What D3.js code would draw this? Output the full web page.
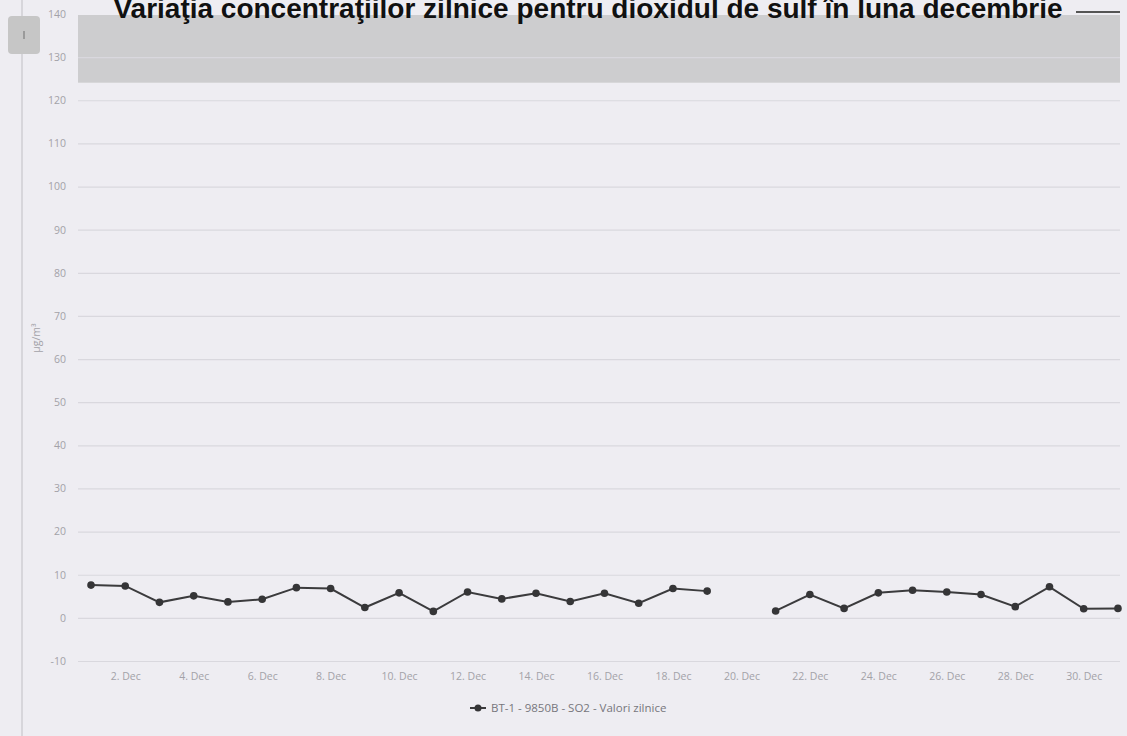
<!DOCTYPE html>
<html>
<head>
<meta charset="utf-8">
<script src="https://cdn.jsdelivr.net/npm/d3@7"></script>
<style>
    body { margin: 0; background: #eeedf2; overflow: hidden; }
    svg { display: block; }
</style>
</head>
<body>
<div class="chart"></div>
<script>

// ===============================
// Data
// ===============================

const days = [1, 2, 3, 4, 5, 6, 7, 8, 9, 10, 11, 12, 13, 14, 15, 16,
    17, 18, 19, 20, 21, 22, 23, 24, 25, 26, 27, 28, 29, 30, 31];

// null = no value for that day (line is broken)
const so2Values = [7.6, 7.4, 3.6, 5.1, 3.7, 4.3, 7.0, 6.8, 2.4, 5.8, 1.5,
    6.0, 4.4, 5.7, 3.8, 5.7, 3.4, 6.8, 6.2, null, 1.6, 5.4, 2.2, 5.8, 6.4,
    6.0, 5.4, 2.6, 7.2, 2.1, 2.2];

const yTicks = [-10, 0, 10, 20, 30, 40, 50, 60, 70, 80, 90, 100, 110, 120, 130, 140];
const xTicks = [2, 4, 6, 8, 10, 12, 14, 16, 18, 20, 22, 24, 26, 28, 30];

const limitBand = [125, 140];

const title = "Variaţia concentraţiilor zilnice pentru dioxidul de sulf în luna decembrie";
const seriesName = "BT-1 - 9850B - SO2 - Valori zilnice";
const yTitle = "µg/m³";

const data = days.map((d, i) => ({ day: d, value: so2Values[i] }));


// ===============================
// Chart
// ===============================

const width = 1127;
const height = 736;

const plot = { left: 78, right: 1120, top: 14, bottom: 661 };

const svg = d3.select(".chart")
    .append("svg")
    .attr("width", width)
    .attr("height", height);

// scales
const x = d3.scaleLinear()
    .domain([0.62, 31.06])
    .range([plot.left, plot.right]);

const y = d3.scaleLinear()
    .domain([-10, 140])
    .range([plot.bottom, plot.top]);

// container border on the left
svg.append("line")
    .attr("x1", 22).attr("x2", 22)
    .attr("y1", 0).attr("y2", height)
    .attr("stroke", "#cfced3")
    .attr("stroke-width", 1.5);

// export button
svg.append("rect")
    .attr("x", 8).attr("y", 16)
    .attr("width", 32).attr("height", 38)
    .attr("rx", 4)
    .attr("fill", "#c6c6c6");

svg.append("line")
    .attr("x1", 24).attr("x2", 24)
    .attr("y1", 31).attr("y2", 39)
    .attr("stroke", "#9a9a9a")
    .attr("stroke-width", 2);

// =========================
// Limit band
// =========================

svg.append("rect")
    .attr("x", plot.left)
    .attr("y", y(limitBand[1]) + 1)
    .attr("width", plot.right - plot.left)
    .attr("height", y(limitBand[0]) - y(limitBand[1]) + 3)
    .attr("fill", "#cdcdcf");

// =========================
// Grid + Y axis
// =========================

const yAxis = svg.append("g")
    .attr("transform", `translate(${plot.left},0)`)
    .call(
        d3.axisLeft(y)
            .tickValues(yTicks)
            .tickSize(-(plot.right - plot.left))
            .tickPadding(12)
            .tickFormat(d => String(d))
    );

yAxis.select(".domain").remove();
yAxis.selectAll(".tick line")
    .attr("stroke", "#d9d8de")
    .attr("stroke-width", 1.2);
yAxis.selectAll(".tick text")
    .attr("fill", "#a3a2a8")
    .style("font-family", "'Open Sans', sans-serif")
    .style("font-size", "10.5px");

// top tick line sits under the band, hide it
yAxis.selectAll(".tick")
    .filter(d => d === 140)
    .select("line")
    .remove();

// =========================
// X axis
// =========================

const xAxis = svg.append("g")
    .attr("transform", `translate(0,${plot.bottom})`)
    .call(
        d3.axisBottom(x)
            .tickValues(xTicks)
            .tickSize(0)
            .tickPadding(12)
            .tickFormat(d => `${d}. Dec`)
    );

xAxis.select(".domain").remove();
xAxis.selectAll(".tick text")
    .attr("fill", "#a3a2a8")
    .style("font-family", "'Open Sans', sans-serif")
    .style("font-size", "10.5px");

// =========================
// Line + markers
// =========================

const line = d3.line()
    .defined(d => d.value !== null)
    .x(d => x(d.day))
    .y(d => y(d.value));

svg.append("path")
    .datum(data)
    .attr("fill", "none")
    .attr("stroke", "#3b3b3d")
    .attr("stroke-width", 2)
    .attr("d", line);

svg.selectAll(".marker")
    .data(data.filter(d => d.value !== null))
    .join("circle")
    .attr("class", "marker")
    .attr("cx", d => x(d.day))
    .attr("cy", d => y(d.value))
    .attr("r", 3.8)
    .attr("fill", "#353537");

// =========================
// Titles
// =========================

// title sits partly above the top edge, as in the scanned original
svg.append("text")
    .attr("x", 588)
    .attr("y", 18)
    .attr("text-anchor", "middle")
    .style("font-family", "'Liberation Sans', Arial, sans-serif")
    .style("font-size", "28px")
    .style("font-weight", "bold")
    .attr("fill", "#111")
    .text(title);

// short rule top right
svg.append("line")
    .attr("x1", 1076).attr("x2", 1120)
    .attr("y1", 12).attr("y2", 12)
    .attr("stroke", "#555")
    .attr("stroke-width", 2);

svg.append("text")
    .attr("transform", "rotate(-90)")
    .attr("x", -338)
    .attr("y", 40)
    .attr("text-anchor", "middle")
    .style("font-family", "'Open Sans', sans-serif")
    .style("font-size", "10.5px")
    .attr("fill", "#a3a2a8")
    .text(yTitle);

// =========================
// Legend
// =========================

const legend = svg.append("g")
    .attr("transform", "translate(470,708)");

legend.append("line")
    .attr("x1", 0).attr("x2", 16)
    .attr("stroke", "#3b3b3d")
    .attr("stroke-width", 2);

legend.append("circle")
    .attr("cx", 8)
    .attr("r", 3.5)
    .attr("fill", "#353537");

legend.append("text")
    .attr("x", 21)
    .attr("dy", "0.35em")
    .style("font-family", "'Open Sans', sans-serif")
    .style("font-size", "11.5px")
    .attr("fill", "#77767c")
    .text(seriesName);

</script>
</body>
</html>
